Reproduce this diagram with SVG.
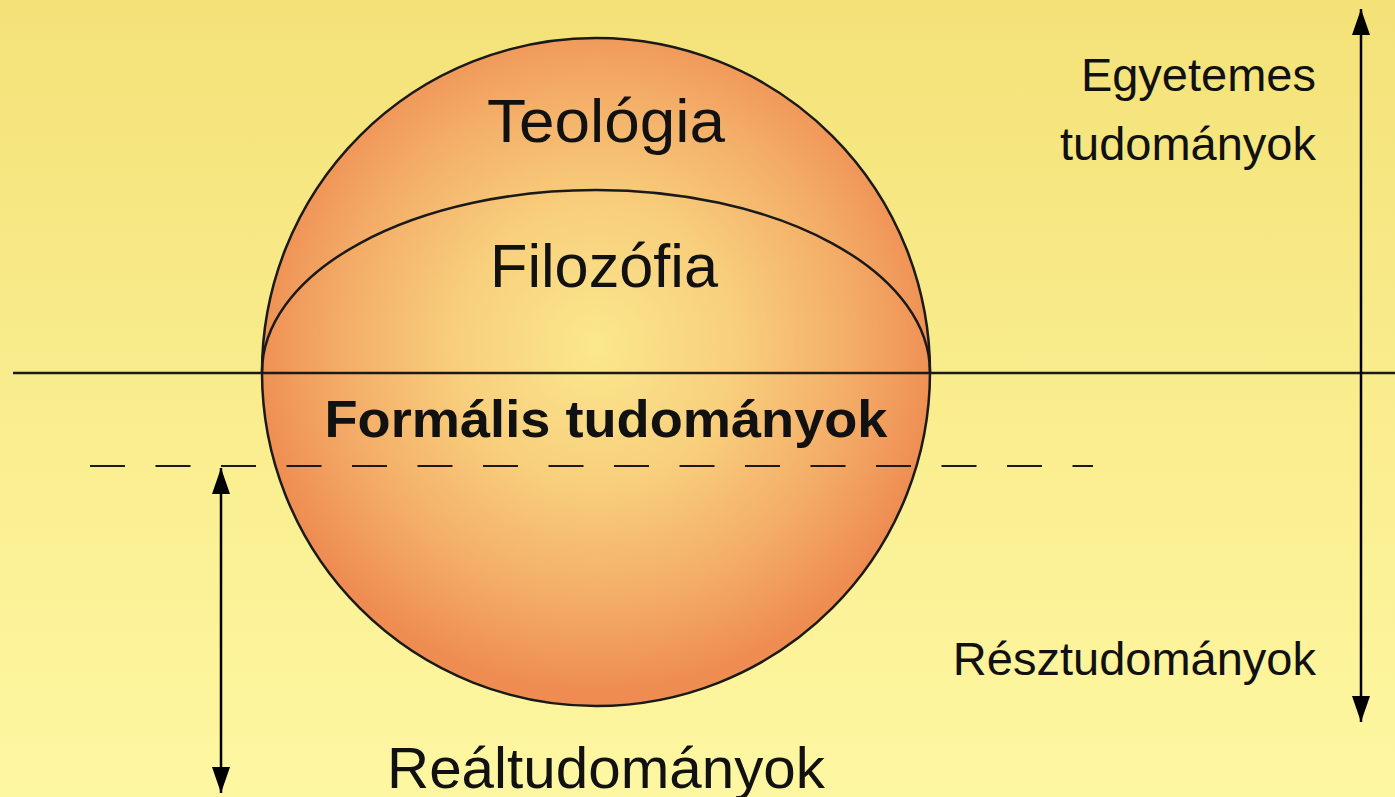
<svg xmlns="http://www.w3.org/2000/svg" width="1395" height="797" viewBox="0 0 1395 797">
  <defs>
    <linearGradient id="bg" x1="0" y1="0" x2="0" y2="1">
      <stop offset="0" stop-color="#f4e278"/>
      <stop offset="1" stop-color="#fef7a2"/>
    </linearGradient>
    <radialGradient id="sphere" cx="0.5" cy="0.46" r="0.52">
      <stop offset="0" stop-color="#fbe88d"/>
      <stop offset="0.4" stop-color="#f8cf7d"/>
      <stop offset="0.75" stop-color="#f3ab66"/>
      <stop offset="1" stop-color="#ee8c52"/>
    </radialGradient>
    <marker id="ah" viewBox="0 0 26 18" refX="26" refY="9" markerWidth="26" markerHeight="18" markerUnits="userSpaceOnUse" orient="auto-start-reverse">
      <path d="M0,0 L26,9 L0,18 z" fill="#000"/>
    </marker>
    <style>
      .lbl { font-family: "Liberation Sans", Arial, sans-serif; fill: #111; }
      .line { stroke: #1a1a1a; stroke-width: 2.5; fill: none; }
      .dash { stroke: #1a1a1a; stroke-width: 2; fill: none; stroke-dasharray: 35 30.5; }
      .arrow { stroke: #000; stroke-width: 2.5; fill: none; marker-start: url(#ah); marker-end: url(#ah); }
    </style>
  </defs>

  <rect x="0" y="0" width="1395" height="797" fill="url(#bg)"/>

  <g id="sphere-node">
    <circle cx="596" cy="372" r="334" fill="url(#sphere)" stroke="#1a1a1a" stroke-width="2.5"/>
    <path d="M262,372 A334,182 0 0 1 930,372" class="line"/>
  </g>

  <g id="connectors">
    <line x1="13" y1="373" x2="1395" y2="373" class="line"/>
    <line x1="90" y1="466" x2="1093" y2="466" class="dash"/>
    <line x1="1361" y1="9" x2="1361" y2="722" class="arrow"/>
    <line x1="221" y1="468" x2="221" y2="793" class="arrow"/>
  </g>

  <g id="teologia"><text class="lbl" x="606" y="142" font-size="62" text-anchor="middle" textLength="238" lengthAdjust="spacingAndGlyphs">Teológia</text></g>
  <g id="filozofia"><text class="lbl" x="604" y="287" font-size="61" text-anchor="middle" textLength="228" lengthAdjust="spacingAndGlyphs">Filozófia</text></g>
  <g id="formalis"><text class="lbl" x="606" y="437" font-size="52" font-weight="bold" text-anchor="middle" textLength="563" lengthAdjust="spacingAndGlyphs">Formális tudományok</text></g>
  <g id="realtudomanyok"><text class="lbl" x="606" y="788" font-size="58" text-anchor="middle" textLength="438" lengthAdjust="spacingAndGlyphs">Reáltudományok</text></g>
  <g id="egyetemes">
    <text class="lbl" x="1316" y="91" font-size="47" text-anchor="end">Egyetemes</text>
    <text class="lbl" x="1316" y="160" font-size="47" text-anchor="end">tudományok</text>
  </g>
  <g id="resztudomanyok"><text class="lbl" x="1316" y="675" font-size="47" text-anchor="end">Résztudományok</text></g>
</svg>
